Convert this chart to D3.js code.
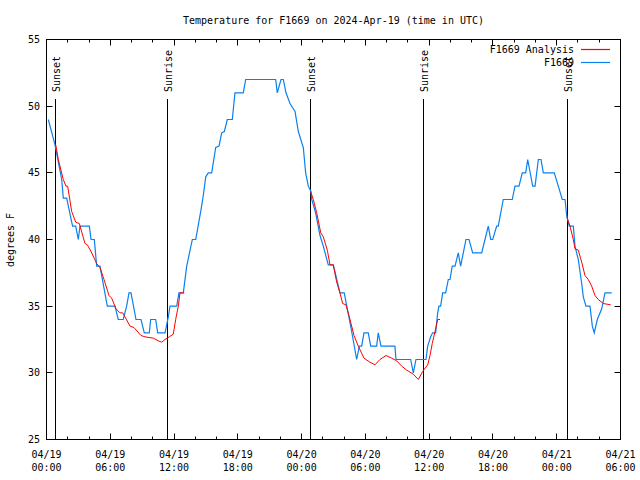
<!DOCTYPE html>
<html>
<head>
<meta charset="utf-8">
<script src="https://cdn.jsdelivr.net/npm/d3@7"></script>
<style>
  html, body { margin: 0; padding: 0; background: #fff; }
  svg text { font-family: "DejaVu Sans Mono", monospace; font-size: 10px; fill: #000; }
</style>
</head>
<body>
<svg id="chart" width="640" height="480"></svg>
<script>
// ---- data (hours after 2024-04-19 00:00 UTC, degrees F) ----
const obsHours = [0.17,0.80,1.43,1.58,1.90,2.37,2.46,2.75,2.99,3.15,4.03,4.19,4.50,4.72,5.03,5.72,6.44,6.75,7.22,7.54,7.76,7.95,8.42,8.89,9.20,9.67,9.80,10.27,10.46,11.15,11.46,11.62,12.25,12.46,12.87,13.19,13.72,14.04,14.53,14.75,14.98,15.22,15.54,15.92,16.23,16.48,16.73,17.01,17.48,17.73,18.51,18.74,21.56,21.71,22.06,22.28,22.53,22.91,23.38,23.69,24.16,24.38,24.63,24.88,24.95,25.32,25.73,26.04,26.51,26.98,27.61,28.01,28.71,29.18,29.43,29.65,29.87,30.27,30.50,31.06,31.21,31.47,32.78,32.88,34.26,34.51,34.76,35.70,35.86,36.14,36.33,36.61,36.80,36.92,37.08,37.27,37.55,37.80,37.96,38.17,38.43,38.74,38.96,39.21,39.46,39.75,40.09,40.94,41.25,41.56,41.79,41.98,42.35,42.50,42.97,43.82,44.07,44.45,44.76,45.08,45.27,45.74,45.96,46.27,46.52,46.74,47.77,48.15,48.52,48.78,48.94,49.18,49.56,49.72,50.03,50.35,50.50,50.75,51.13,51.35,51.53,51.82,52.23,52.54,53.17];
const obsTemps = [49.0,47.1,44.5,43.1,43.1,41.3,41.0,41.0,40.0,41.0,41.0,40.0,40.0,38.0,38.0,35.0,35.0,34.0,34.0,35.0,36.0,36.0,34.0,34.0,33.0,33.0,34.0,34.0,33.0,33.0,34.2,35.0,35.0,36.0,36.0,38.0,40.0,40.0,42.2,43.3,44.7,45.0,45.0,46.9,47.0,48.0,48.1,49.0,49.0,51.0,51.0,52.0,52.0,51.0,52.0,52.0,51.0,50.2,49.6,48.1,46.9,45.0,44.0,43.6,43.0,42.0,40.3,39.5,38.1,38.1,36.0,36.0,33.1,31.0,32.0,32.0,33.0,33.0,32.0,32.0,33.0,32.0,32.0,31.0,31.0,30.0,31.0,31.0,32.0,32.7,33.0,33.0,34.5,35.0,35.0,36.0,36.0,37.0,37.0,38.0,38.0,39.0,38.0,39.0,40.0,40.0,39.0,39.0,40.0,41.0,40.0,40.0,41.0,41.0,43.0,43.0,44.0,44.0,45.0,45.0,46.0,44.0,44.0,46.0,46.0,45.0,45.0,44.0,43.0,43.0,41.8,41.0,41.0,39.5,38.5,36.7,35.7,35.0,35.0,33.5,33.0,34.0,34.8,36.0,36.0];

const ana1Hours = [0.87,1.11,1.36,1.58,1.83,1.99,2.37,2.75,3.09,3.62,3.84,4.19,4.72,5.03,5.41,5.88,6.13,6.54,6.91,7.17,7.86,8.23,8.89,9.27,10.05,10.52,10.84,11.15,11.55,11.93,12.15,12.40,12.56,12.96];
const ana1Temps = [47.1,46.0,45.2,44.5,44.0,44.0,42.1,41.3,41.2,39.7,39.6,39.1,38.2,37.9,37.0,35.8,35.6,34.8,34.5,34.5,33.5,33.4,32.8,32.7,32.6,32.4,32.3,32.5,32.7,32.9,34.0,35.0,36.0,36.0];
const ana2Hours = [24.85,25.10,25.42,25.80,26.04,26.42,26.67,26.98,27.30,27.61,27.86,28.17,28.49,28.93,29.33,29.87,30.43,30.90,31.37,31.94,32.47,32.94,33.42,33.89,34.51,34.98,35.39,35.86,36.08,36.29,36.55,36.80,37.02];
const ana2Temps = [43.6,43.0,42.0,40.5,40.2,39.2,38.1,38.1,36.8,36.0,35.2,35.1,34.2,32.8,32.0,31.1,30.8,30.6,31.0,31.3,31.1,30.9,30.5,30.2,29.9,29.5,30.1,30.6,31.3,32.2,33.1,34.0,34.0];
const ana3Hours = [48.94,49.25,49.56,49.72,50.03,50.35,50.66,50.97,51.29,51.60,51.91,52.38,53.08];
const ana3Temps = [41.7,41.0,40.0,39.3,39.2,38.3,37.3,37.0,36.5,35.8,35.5,35.2,35.1];

const sunEventHours = [0.80, 11.43, 24.88, 35.42, 48.97];
const sunEventLabels = ["Sunset", "Sunrise", "Sunset", "Sunrise", "Sunset"];

const yTicks = [25, 30, 35, 40, 45, 50, 55];
const seriesNames = ["F1669 Analysis", "F1669"];
const titleText = "Temperature for F1669 on 2024-Apr-19 (time in UTC)";
const yLabelText = "degrees F";

// ---- setup ----
const base = Date.UTC(2024, 3, 19, 0, 0, 0);
const toDate = h => new Date(base + h * 3600000);
const colors = { analysis: "#ff0000", obs: "#0a80f0" };

const svg = d3.select("#chart");
const L = 46.5, R = 620.5, T = 39.5, B = 439.5;

const x = d3.scaleUtc().domain([toDate(0), toDate(54)]).range([L, R]);
const y = d3.scaleLinear().domain([25, 55]).range([B, T]);

const majorTicks = x.ticks(d3.utcHour.every(6));
const minorTicks = x.ticks(d3.utcHour.every(2)).filter(d => d.getUTCHours() % 6 !== 0);

// frame
svg.append("rect").attr("x", L).attr("y", T).attr("width", R - L).attr("height", B - T)
  .attr("fill", "none").attr("stroke", "#000").attr("stroke-width", 1);

// x ticks (bottom & top, inward)
const tickG = svg.append("g").attr("stroke", "#000").attr("stroke-width", 1);
majorTicks.forEach(d => {
  const px = Math.round(x(d) - 0.5) + 0.5;
  tickG.append("line").attr("x1", px).attr("x2", px).attr("y1", B).attr("y2", B - 6);
  tickG.append("line").attr("x1", px).attr("x2", px).attr("y1", T).attr("y2", T + 6);
});
minorTicks.forEach(d => {
  const px = Math.round(x(d) - 0.5) + 0.5;
  tickG.append("line").attr("x1", px).attr("x2", px).attr("y1", B).attr("y2", B - 3);
  tickG.append("line").attr("x1", px).attr("x2", px).attr("y1", T).attr("y2", T + 3);
});
// y ticks (left & right, inward)
yTicks.forEach(v => {
  const py = Math.round(y(v) - 0.5) + 0.5;
  tickG.append("line").attr("x1", L).attr("x2", L + 6).attr("y1", py).attr("y2", py);
  tickG.append("line").attr("x1", R).attr("x2", R - 6).attr("y1", py).attr("y2", py);
});

// x tick labels
const fmtD = d3.utcFormat("%m/%d"), fmtT = d3.utcFormat("%H:%M");
majorTicks.forEach(d => {
  const t = svg.append("text").attr("text-anchor", "middle");
  t.append("tspan").attr("x", x(d)).attr("y", 458).text(fmtD(d));
  t.append("tspan").attr("x", x(d)).attr("y", 471).text(fmtT(d));
});
// y tick labels
yTicks.forEach(v => {
  svg.append("text").attr("x", 40).attr("y", y(v) + 3.5).attr("text-anchor", "end").text(v);
});

// title & y label
svg.append("text").attr("x", (L + R) / 2).attr("y", 24).attr("text-anchor", "middle").text(titleText);
svg.append("text").attr("transform", "translate(14,240) rotate(-90)").attr("text-anchor", "middle").text(yLabelText);

// sunrise/sunset lines
sunEventHours.forEach((h, i) => {
  const px = Math.round(x(toDate(h)) - 0.5) + 0.5;
  svg.append("line").attr("x1", px).attr("x2", px).attr("y1", 99).attr("y2", B)
    .attr("stroke", "#000").attr("stroke-width", 1);
  svg.append("text").attr("transform", `translate(${px + 4.5},92) rotate(-90)`)
    .attr("text-anchor", "start").text(sunEventLabels[i]);
});

// series
const line = d3.line().x(d => x(toDate(d[0]))).y(d => y(d[1]));
const obs = d3.zip(obsHours, obsTemps);
svg.append("path").datum(obs).attr("d", line).attr("fill", "none")
  .attr("stroke", colors.obs).attr("stroke-width", 1.2);
[[ana1Hours, ana1Temps], [ana2Hours, ana2Temps], [ana3Hours, ana3Temps]].forEach(([hs, ts]) => {
  svg.append("path").datum(d3.zip(hs, ts)).attr("d", line).attr("fill", "none")
    .attr("stroke", colors.analysis).attr("stroke-width", 1);
});

// legend
const legColors = [colors.analysis, colors.obs];
seriesNames.forEach((name, i) => {
  const ly = 49.5 + i * 13;
  svg.append("text").attr("x", 574).attr("y", ly + 3.5).attr("text-anchor", "end").text(name);
  svg.append("line").attr("x1", 581).attr("x2", 610).attr("y1", ly).attr("y2", ly)
    .attr("stroke", legColors[i]).attr("stroke-width", 1.2);
});
</script>
</body>
</html>
